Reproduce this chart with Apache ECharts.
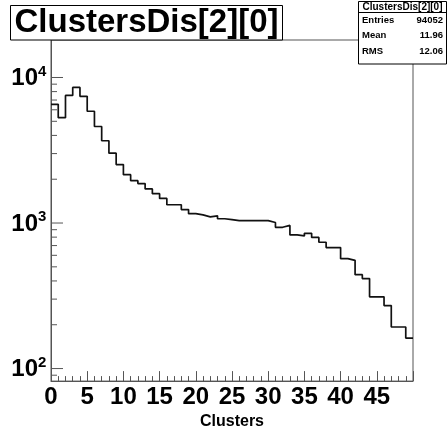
<!DOCTYPE html>
<html><head><meta charset="utf-8">
<script src="https://cdn.jsdelivr.net/npm/echarts@6/dist/echarts.min.js"></script>
<style>html,body{margin:0;padding:0;background:#fff}#c{width:448px;height:435px}</style>
</head><body><div id="c"></div>
<script>
// ---- data ----
const histTitle = 'ClustersDis[2][0]';
const xTitle = 'Clusters';
const binLow = [0,1,2,3,4,5,6,7,8,9,10,11,12,13,14,15,16,17,18,19,20,21,22,23,24,25,26,27,28,29,30,31,32,33,34,35,36,37,38,39,40,41,42,43,44,45,46,47,48,49];
const binWidth = 1;
const counts = [6543,5300,7535,8540,7422,5861,4607,3675,3022,2523,2148,1954,1867,1714,1590,1475,1335,1335,1238,1159,1137,1103,1120,1070,1054,1038,1038,1038,1038,1038,1008,935,963,829,816,850,796,738,678,678,569,554,442,415,311,311,271,193,193,162];
const xTickLabels = ['0','5','10','15','20','25','30','35','40','45'];
const yDecadeExps = [2,3,4];
const statsLabels = ['Entries','Mean','RMS'];
const statsValues = ['94052','11.96','12.06'];

const xMin = 0, xMax = 50, yMin = 82, yMax = 18100;
const AX = '#555';

// step-line points
const stepPts = [];
binLow.forEach((x, i) => { stepPts.push([x, counts[i]]); stepPts.push([x + binWidth, counts[i]]); });

// y ticks (major at decades, minor at 2..9 x decade)
const yTicks = [];
[1].concat(yDecadeExps).forEach(e => {
  for (let m = 1; m <= 9; m++) {
    const v = m * Math.pow(10, e);
    if (v >= yMin && v <= yMax) yTicks.push([0, v, m === 1 ? e : -1]);
  }
});

const FONT = '"Liberation Sans", Arial, Helvetica, sans-serif';
function txt(x, y, text, size, weight, align, z) {
  return {type: 'text', z: z || 101, x, y, style: {
    text, fontFamily: FONT, fontSize: size, fontWeight: weight, fill: '#000',
    align, verticalAlign: 'middle', textAlign: align, textVerticalAlign: 'middle'}};
}
const chart = echarts.init(document.getElementById('c'), null, {renderer: 'canvas'});
chart.setOption({
  animation: false,
  backgroundColor: '#fff',
  grid: {left: 51, right: 35, top: 40, bottom: 36, show: true, borderColor: AX, borderWidth: 1, backgroundColor: 'transparent'},
  xAxis: {
    type: 'value', min: xMin, max: xMax, interval: 5,
    name: xTitle, nameLocation: 'middle', nameGap: 18,
    nameTextStyle: {fontFamily: FONT, fontWeight: 'bold', fontSize: 16, color: '#000'},
    axisLine: {show: true, lineStyle: {color: AX, width: 1}},
    axisTick: {show: true, inside: true, length: 10, lineStyle: {color: AX}},
    minorTick: {show: true, splitNumber: 5, length: 5, lineStyle: {color: AX}},
    splitLine: {show: false},
    axisLabel: {
      show: true, margin: 4, fontFamily: FONT, fontWeight: 'bold', fontSize: 24, color: '#000',
      showMinLabel: true, showMaxLabel: false, hideOverlap: false,
      formatter: v => { const s = String(v); return xTickLabels.indexOf(s) >= 0 ? s : ''; }
    }
  },
  yAxis: {
    type: 'log', logBase: 10, min: yMin, max: yMax,
    axisLine: {show: true, lineStyle: {color: AX, width: 1}},
    axisTick: {show: false}, axisLabel: {show: false}, splitLine: {show: false}, minorTick: {show: false}
  },
  series: [
    {
      type: 'line', data: stepPts, showSymbol: false, symbol: 'none',
      lineStyle: {color: '#111', width: 1.7}, z: 5
    },
    {
      type: 'custom', data: yTicks, silent: true, z: 4, clip: false,
      renderItem: (params, api) => {
        const v = api.value(1), e = api.value(2);
        const p = api.coord([xMin, v]);
        const major = e >= 0;
        const children = [{type: 'line', shape: {x1: p[0], y1: p[1], x2: p[0] + (major ? 12 : 6), y2: p[1]}, style: {stroke: AX, lineWidth: 1}}];
        if (major) {
          children.push(txt(p[0] - 13, p[1] + 1, '10', 24, 'bold', 'right', 10));
          children.push(txt(p[0] - 13, p[1] - 6, String(e), 15, 'bold', 'left', 10));
        }
        return {type: 'group', children};
      }
    }
  ],
  graphic: [
    {type: 'rect', z: 100, shape: {x: 10.5, y: 5.5, width: 272, height: 34.5}, style: {fill: '#fff', stroke: '#000', lineWidth: 1}},
    txt(146.5, 23, histTitle, 33, 'bold', 'center'),
    {type: 'rect', z: 100, shape: {x: 358.5, y: 1.5, width: 88, height: 62.5}, style: {fill: '#fff', stroke: '#000', lineWidth: 1}},
    {type: 'line', z: 101, shape: {x1: 358.5, y1: 12.5, x2: 446.5, y2: 12.5}, style: {stroke: '#000', lineWidth: 1}},
    txt(402.5, 7.5, histTitle, 10, 'bold', 'center')
  ].concat(statsLabels.map((s, i) => txt(362, 20 + i * 15.5, s, 9.5, 'bold', 'left')))
   .concat(statsValues.map((s, i) => txt(443, 20 + i * 15.5, s, 9.5, 'bold', 'right')))
});
</script>
</body></html>
